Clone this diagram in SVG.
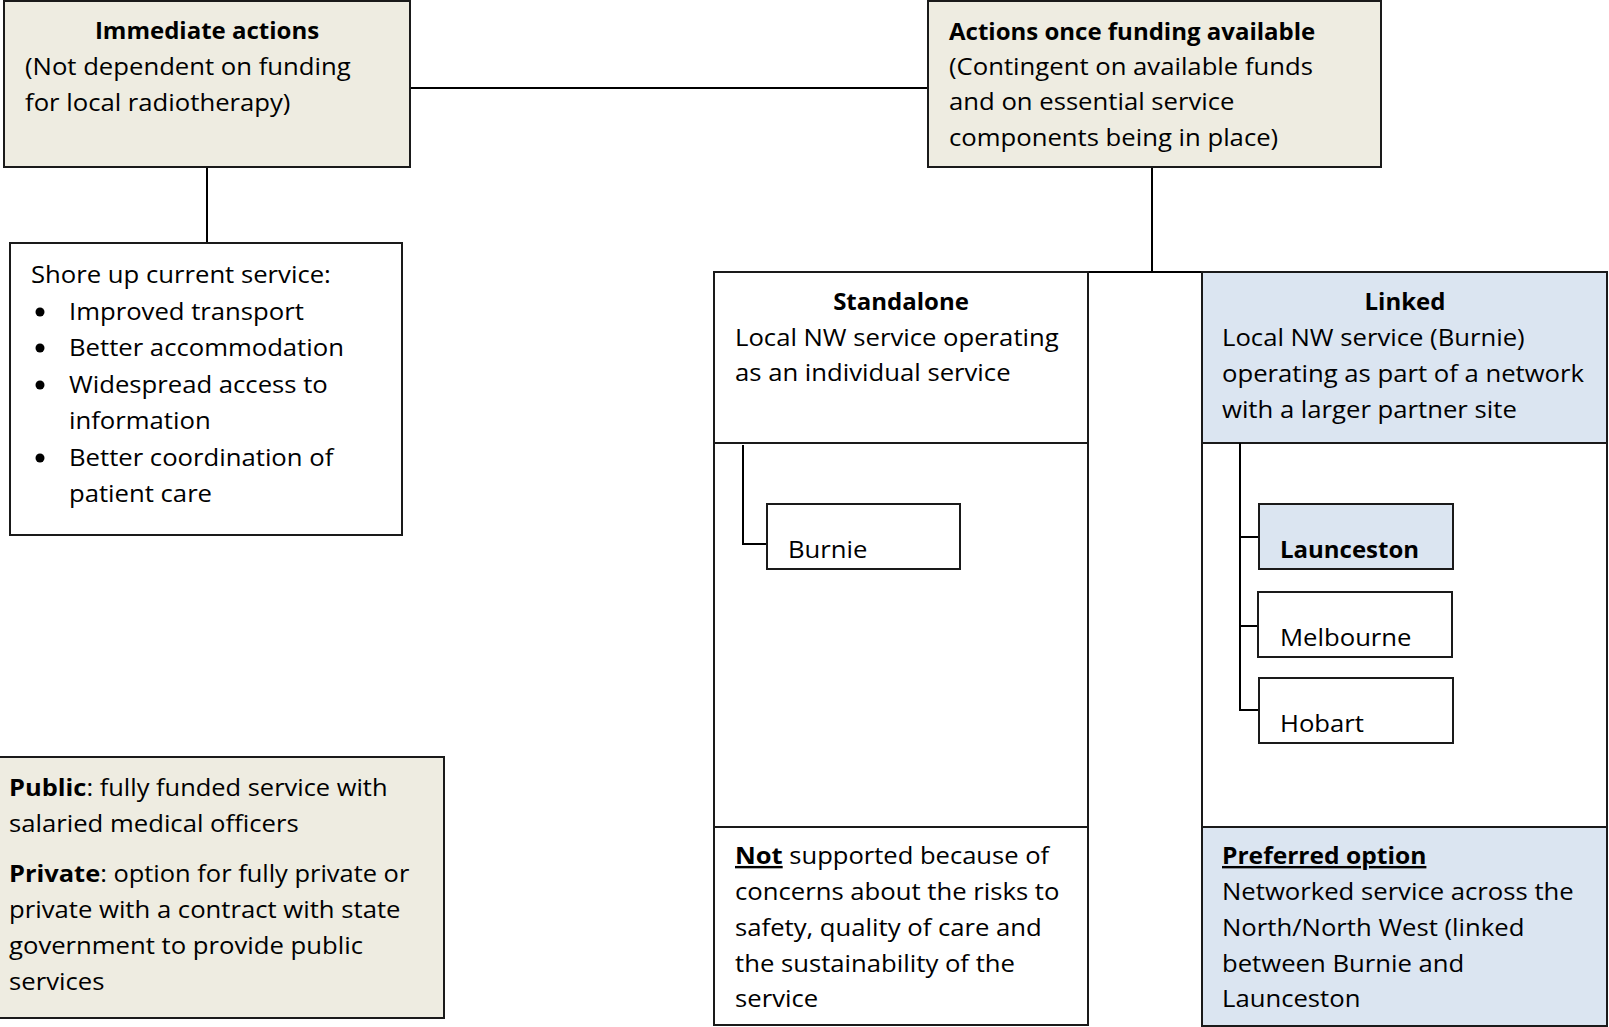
<svg xmlns="http://www.w3.org/2000/svg" width="1609" height="1027" viewBox="0 0 1609 1027">
<style>
text { font-family: "Open Sans", "Noto Sans", "Liberation Sans", sans-serif; font-size: 24px; fill: #000; }
.b { font-weight: bold; }
.c { text-anchor: middle; }
.u { text-decoration: underline; }
.box { stroke: #1a1a1a; stroke-width: 2; }
.beige { fill: #EEECE1; }
.blue { fill: #DBE5F1; }
.white { fill: #FFFFFF; }
.conn { stroke: #000; stroke-width: 2; fill: none; }
.dot { fill: #000; }
</style>
<rect x="0" y="0" width="1609" height="1027" fill="#FFFFFF"/>

<g id="connectors">
  <line class="conn" x1="410" y1="88" x2="928" y2="88"/>
  <line class="conn" x1="207" y1="167" x2="207" y2="243"/>
  <line class="conn" x1="1152" y1="167" x2="1152" y2="272"/>
  <line class="conn" x1="1088" y1="272" x2="1202" y2="272"/>
</g>

<g id="immediate">
  <rect class="box beige" x="4" y="1" width="406" height="166"/>
  <text class="b c" x="207" y="39">Immediate actions</text>
  <g transform="translate(25,0) scale(1.07,1)">
    <text x="0" y="75">(Not dependent on funding</text>
    <text x="0" y="111">for local radiotherapy)</text>
  </g>
</g>

<g id="actions">
  <rect class="box beige" x="928" y="1" width="453" height="166"/>
  <text class="b" x="949" y="40">Actions once funding available</text>
  <g transform="translate(949,0) scale(1.07,1)">
    <text x="0" y="75">(Contingent on available funds</text>
    <text x="0" y="110">and on essential service</text>
    <text x="0" y="146">components being in place)</text>
  </g>
</g>

<g id="shore">
  <rect class="box white" x="10" y="243" width="392" height="292"/>
  <circle class="dot" cx="40" cy="312" r="4.5"/>
  <circle class="dot" cx="40" cy="348" r="4.5"/>
  <circle class="dot" cx="40" cy="385" r="4.5"/>
  <circle class="dot" cx="40" cy="458" r="4.5"/>
  <g transform="translate(31,0) scale(1.07,1)">
    <text x="0" y="283">Shore up current service:</text>
  </g>
  <g transform="translate(69,0) scale(1.07,1)">
    <text x="0" y="320">Improved transport</text>
    <text x="0" y="356">Better accommodation</text>
    <text x="0" y="393">Widespread access to</text>
    <text x="0" y="429">information</text>
    <text x="0" y="466">Better coordination of</text>
    <text x="0" y="502">patient care</text>
  </g>
</g>

<g id="standalone">
  <rect class="box white" x="714" y="272" width="374" height="171"/>
  <rect class="box white" x="714" y="443" width="374" height="384"/>
  <rect class="box white" x="714" y="827" width="374" height="198"/>
  <text class="b c" x="901" y="310">Standalone</text>
  <g transform="translate(735,0) scale(1.07,1)">
    <text x="0" y="346">Local NW service operating</text>
    <text x="0" y="381">as an individual service</text>
  </g>
  <path class="conn" d="M743,445 V544 H767"/>
  <g transform="translate(735,0) scale(1.065,1)">
    <text x="0" y="864"><tspan class="b u">Not</tspan> supported because of</text>
  </g>
  <g transform="translate(735,0) scale(1.07,1)">
    <text x="0" y="900">concerns about the risks to</text>
    <text x="0" y="936">safety, quality of care and</text>
    <text x="0" y="972">the sustainability of the</text>
    <text x="0" y="1007">service</text>
  </g>
</g>

<g id="burnie">
  <rect class="box white" x="767" y="504" width="193" height="65"/>
  <g transform="translate(788,0) scale(1.07,1)">
    <text x="0" y="558">Burnie</text>
  </g>
</g>

<g id="linked">
  <rect class="box blue" x="1202" y="272" width="405" height="171"/>
  <rect class="box white" x="1202" y="443" width="405" height="384"/>
  <rect class="box blue" x="1202" y="827" width="405" height="199"/>
  <text class="b c" x="1405" y="310">Linked</text>
  <g transform="translate(1222,0) scale(1.07,1)">
    <text x="0" y="346">Local NW service (Burnie)</text>
    <text x="0" y="382">operating as part of a network</text>
    <text x="0" y="418">with a larger partner site</text>
  </g>
  <path class="conn" d="M1240,443 V710 H1259 M1240,537 H1259 M1240,626 H1258"/>
  <g transform="translate(1222,0) scale(1.025,1)">
    <text class="b u" x="0" y="864">Preferred option</text>
  </g>
  <g transform="translate(1222,0) scale(1.07,1)">
    <text x="0" y="900">Networked service across the</text>
    <text x="0" y="936">North/North West (linked</text>
    <text x="0" y="972">between Burnie and</text>
    <text x="0" y="1007">Launceston</text>
  </g>
</g>

<g id="launceston">
  <rect class="box blue" x="1259" y="504" width="194" height="65"/>
  <text class="b" x="1280" y="558">Launceston</text>
</g>

<g id="melbourne">
  <rect class="box white" x="1258" y="592" width="194" height="65"/>
  <g transform="translate(1280,0) scale(1.07,1)">
    <text x="0" y="646">Melbourne</text>
  </g>
</g>

<g id="hobart">
  <rect class="box white" x="1259" y="678" width="194" height="65"/>
  <g transform="translate(1280,0) scale(1.07,1)">
    <text x="0" y="732">Hobart</text>
  </g>
</g>

<g id="public-private">
  <rect class="box beige" x="-1" y="757" width="445" height="261"/>
  <g transform="translate(9,0) scale(1.06,1)">
    <text x="0" y="796"><tspan class="b">Public</tspan>: fully funded service with</text>
    <text x="0" y="882"><tspan class="b">Private</tspan>: option for fully private or</text>
  </g>
  <g transform="translate(9,0) scale(1.07,1)">
    <text x="0" y="832">salaried medical officers</text>
    <text x="0" y="918">private with a contract with state</text>
    <text x="0" y="954">government to provide public</text>
    <text x="0" y="990">services</text>
  </g>
</g>
</svg>
